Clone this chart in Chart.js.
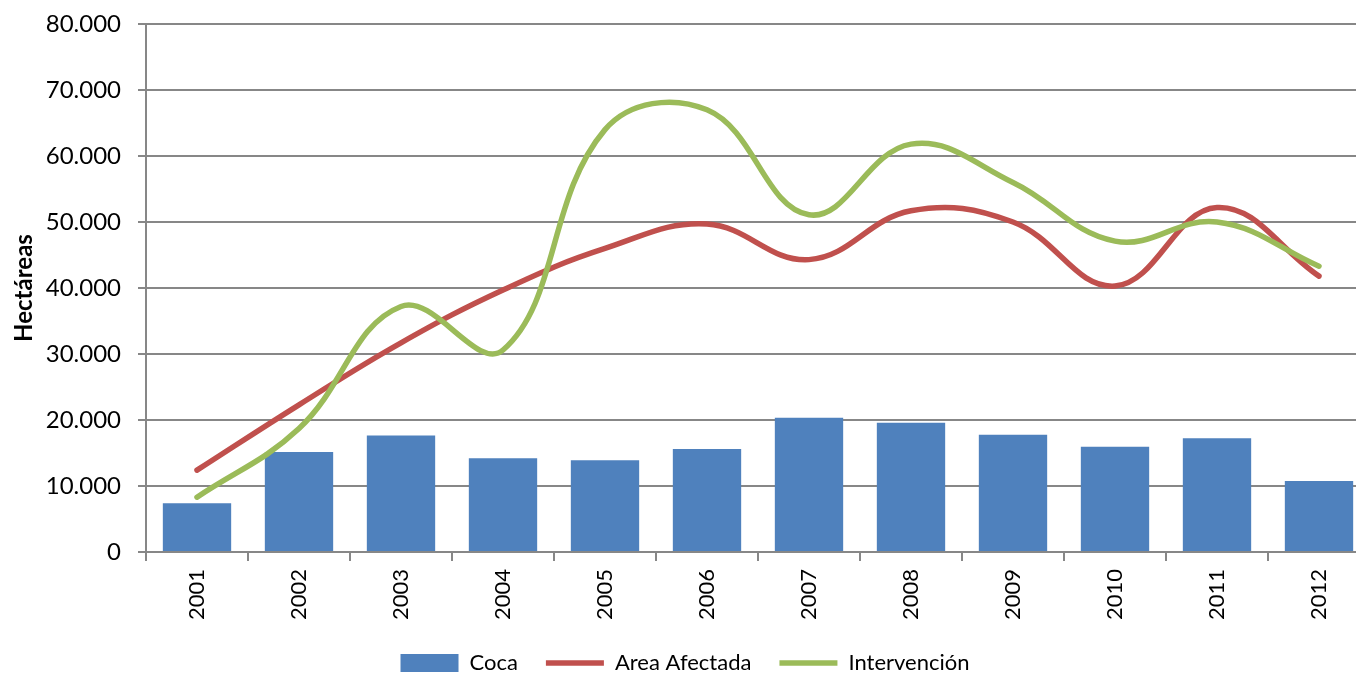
<!DOCTYPE html>
<html>
<head>
<meta charset="utf-8">
<script src="https://cdn.jsdelivr.net/npm/chart.js@4"></script>
<style>
  html, body { margin: 0; padding: 0; background: #fff; overflow: hidden; }
  #wrap { position: relative; width: 1372px; height: 684px; }
</style>
</head>
<body>
<div id="wrap"><canvas id="chart"></canvas></div>
<script>
// ─── Data ───
const YEARS = ['2001','2002','2003','2004','2005','2006','2007','2008','2009','2010','2011','2012'];
const COCA = [7400, 15150, 17650, 14200, 13900, 15600, 20350, 19600, 17750, 15950, 17250, 10750];
const AREA_AFECTADA = [12400, 22300, 31700, 39700, 46000, 49700, 44300, 51700, 50000, 40300, 52200, 41800];
const INTERVENCION = [8300, 18700, 37200, 30600, 64000, 67000, 51100, 61800, 56000, 47100, 50000, 43300];
const LEGEND_ORDER = ['Coca', 'Area Afectada', 'Intervención'];

const BLUE = '#4F81BD', RED = '#C0504D', GREEN = '#9BBB59', GRID = '#878787';
const FONT = 'Lato, "Open Sans", sans-serif';

Chart.defaults.font.family = FONT;
Chart.defaults.color = '#000';

new Chart(document.getElementById('chart'), {
  type: 'bar',
  data: {
    labels: YEARS,
    datasets: [
      { type: 'line', label: 'Area Afectada', data: AREA_AFECTADA, borderColor: RED, backgroundColor: RED,
        borderWidth: 5.5, tension: 0.4, pointRadius: 0, borderCapStyle: 'round', order: 1, pointStyle: 'line' },
      { type: 'line', label: 'Intervención', data: INTERVENCION, borderColor: GREEN, backgroundColor: GREEN,
        borderWidth: 5.5, tension: 0.4, pointRadius: 0, borderCapStyle: 'round', order: 0, pointStyle: 'line' },
      { label: 'Coca', data: COCA, backgroundColor: BLUE, borderWidth: 0,
        categoryPercentage: 1, barPercentage: 0.67, order: 2, pointStyle: 'rect' },
    ],
  },
  options: {
    responsive: true,
    maintainAspectRatio: false,
    animation: false,
    layout: { padding: { top: 24, left: 0, right: 2, bottom: 0 } },
    plugins: {
      tooltip: { enabled: false },
      legend: {
        position: 'bottom',
        labels: {
          usePointStyle: true,
          pointStyleWidth: 58,
          boxHeight: 18,
          padding: 28,
          font: { size: 22 },
          sort: (a, b) => LEGEND_ORDER.indexOf(a.text) - LEGEND_ORDER.indexOf(b.text),
        },
      },
    },
    scales: {
      x: {
        offset: true,
        grid: { offset: true, drawOnChartArea: false, drawTicks: true, tickLength: 9, color: GRID, lineWidth: 2 },
        border: { color: GRID, width: 2 },
        ticks: { minRotation: 90, maxRotation: 90, padding: 8, font: { size: 22 } },
        afterFit: s => { s.height = 72; },
      },
      y: {
        min: 0, max: 80000,
        grid: { color: GRID, lineWidth: 2, tickLength: 8 },
        border: { color: GRID, width: 2 },
        ticks: {
          stepSize: 10000, padding: 17, font: { size: 24, lineHeight: 0.5 },
          callback: v => v === 0 ? '0' : v.toLocaleString('de-DE'),
        },
        title: { display: true, text: 'Hectáreas', font: { size: 24, weight: 'bold' }, padding: { top: 10, bottom: 0 } },
        afterFit: s => { s.width = 146; },
      },
    },
  },
});
</script>
</body>
</html>
